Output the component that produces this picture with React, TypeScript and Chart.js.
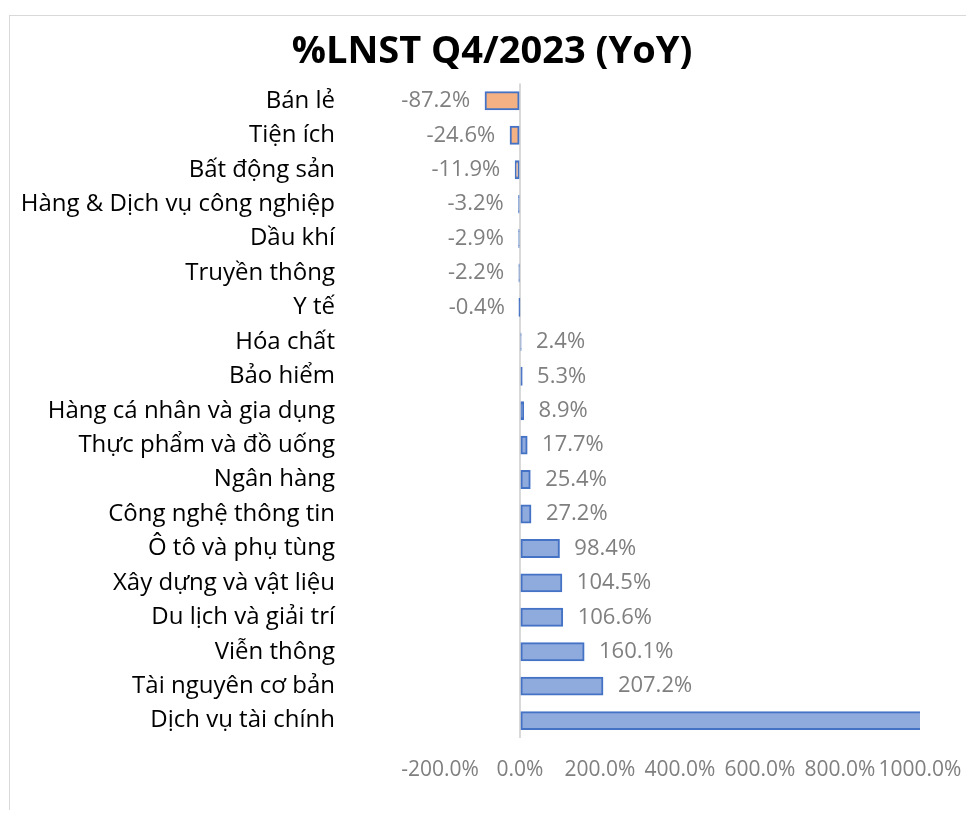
import React, { useEffect, useRef } from 'react';
import { Chart, registerables } from 'chart.js';

Chart.register(...registerables);

const title = '%LNST Q4/2023 (YoY)';

const categories = [
  'Bán lẻ',
  'Tiện ích',
  'Bất động sản',
  'Hàng & Dịch vụ công nghiệp',
  'Dầu khí',
  'Truyền thông',
  'Y tế',
  'Hóa chất',
  'Bảo hiểm',
  'Hàng cá nhân và gia dụng',
  'Thực phẩm và đồ uống',
  'Ngân hàng',
  'Công nghệ thông tin',
  'Ô tô và phụ tùng',
  'Xây dựng và vật liệu',
  'Du lịch và giải trí',
  'Viễn thông',
  'Tài nguyên cơ bản',
  'Dịch vụ tài chính',
];

const values = [
  -87.2, -24.6, -11.9, -3.2, -2.9, -2.2, -0.4, 2.4, 5.3, 8.9, 17.7, 25.4, 27.2,
  98.4, 104.5, 106.6, 160.1, 207.2, 1200,
];

const axisMin = -200;
const axisMax = 1000;
const axisStep = 200;

const POS_FILL = '#8FAADC';
const NEG_FILL = '#F4B183';
const BORDER = '#4472C4';
const LABEL_GRAY = '#7F7F7F';
const FONT = "'Open Sans', 'Noto Sans', sans-serif";

const fmt = (v: number) => v.toFixed(1) + '%';

// very thin bars show only their outline colour
const fillFor = (v: number) => (Math.abs(v) < 10 ? BORDER : v < 0 ? NEG_FILL : POS_FILL);

const dataLabelPlugin = {
  id: 'dataLabels',
  afterDatasetsDraw(chart: any) {
    const { ctx } = chart;
    const meta = chart.getDatasetMeta(0);
    const xScale = chart.scales.x;
    ctx.save();
    ctx.font = `22px ${FONT}`;
    ctx.fillStyle = LABEL_GRAY;
    ctx.textBaseline = 'middle';
    meta.data.forEach((bar: any, i: number) => {
      const v = values[i];
      if (v > xScale.max || v < xScale.min) return;
      const px = xScale.getPixelForValue(v);
      if (v < 0) {
        ctx.textAlign = 'right';
        ctx.fillText(fmt(v), px - 15, bar.y);
      } else {
        ctx.textAlign = 'left';
        ctx.fillText(fmt(v), px + 15, bar.y);
      }
    });
    ctx.restore();
  },
};

export default function App() {
  const ref = useRef<HTMLCanvasElement>(null);

  useEffect(() => {
    if (!ref.current) return;
    const chart = new Chart(ref.current, {
      type: 'bar',
      data: {
        labels: categories,
        datasets: [
          {
            data: values,
            backgroundColor: values.map(fillFor),
            borderColor: BORDER,
            borderWidth: 2,
            borderSkipped: false,
            barPercentage: 0.52,
            categoryPercentage: 1,
            inflateAmount: 0.5,
          },
        ],
      },
      options: {
        animation: false,
        responsive: false,
        indexAxis: 'y',
        layout: { padding: { left: 5, right: 0, top: 0, bottom: 13 } },
        plugins: {
          legend: { display: false },
          tooltip: { enabled: false },
          title: {
            display: true,
            text: title,
            color: '#000',
            font: { family: FONT, size: 38, weight: 'bold' },
            padding: { top: 13, bottom: 9 },
          },
        },
        scales: {
          x: {
            min: axisMin,
            max: axisMax,
            afterFit: (scale: any) => {
              scale.paddingLeft = 0;
              scale.paddingRight = 49;
            },
            ticks: {
              stepSize: axisStep,
              callback: (v: any) => fmt(Number(v)),
              color: LABEL_GRAY,
              font: { family: FONT, size: 21 },
              padding: 20,
              maxRotation: 0,
              autoSkip: false,
            },
            grid: {
              drawTicks: false,
              color: (c: any) => (c.tick && c.tick.value === 0 ? '#D9D9D9' : 'rgba(0,0,0,0)'),
              lineWidth: 2,
            },
            border: { display: false },
          },
          y: {
            afterFit: (scale: any) => {
              scale.width = 425;
              scale.paddingTop = 0;
              scale.paddingBottom = 0;
            },
            ticks: {
              color: '#000',
              font: { family: FONT, size: 24 },
              padding: 105,
              autoSkip: false,
            },
            grid: { display: false, drawTicks: false },
            border: { display: false },
          },
        },
      },
      plugins: [dataLabelPlugin],
    });
    return () => chart.destroy();
  }, []);

  return (
    <div
      style={{
        position: 'relative',
        top: 7,
        left: 1,
        width: 959,
        height: 800,
        border: '1px solid #D9D9D9',
        background: '#fff',
      }}
    >
      <canvas ref={ref} width={959} height={800} style={{ display: 'block' }} />
    </div>
  );
}
